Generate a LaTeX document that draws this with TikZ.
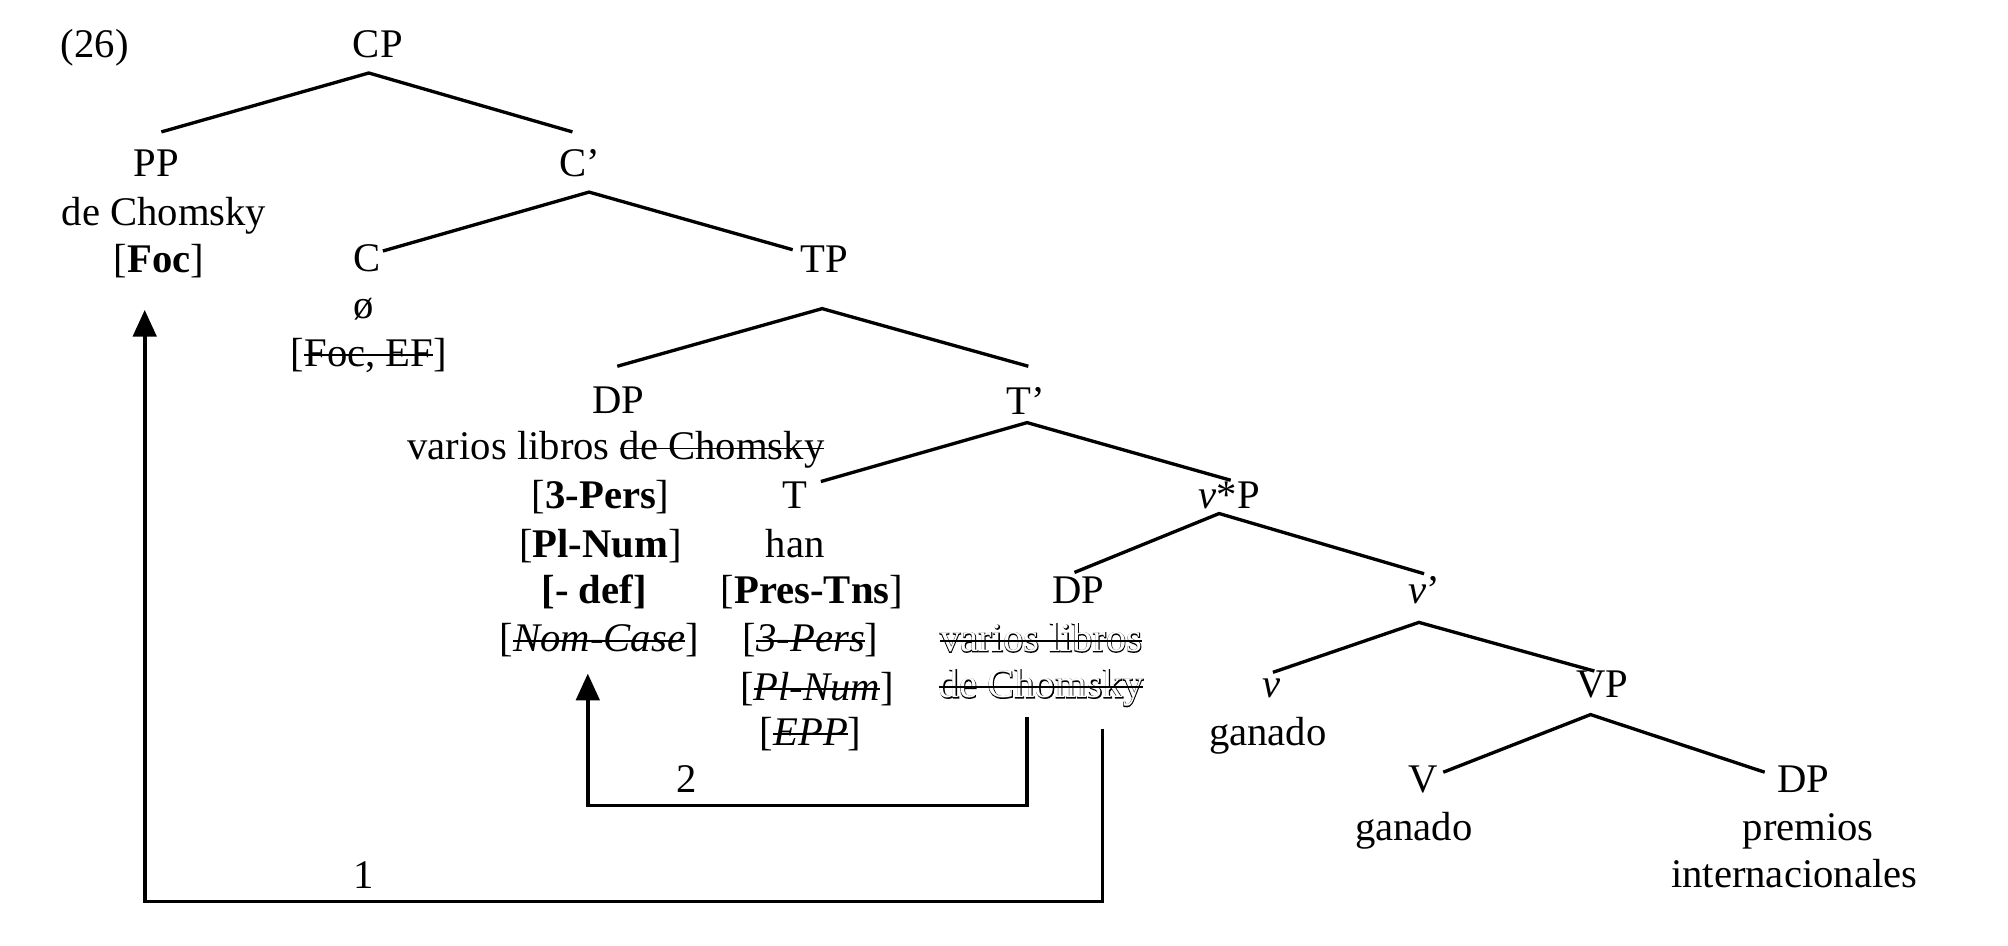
\documentclass[tikz,border=0pt]{standalone}
\usepackage{fontspec}
\setmainfont{Liberation Serif}
\newfontfamily\fatfont[FakeBold=3]{Liberation Serif}
\usetikzlibrary{arrows.meta}
\newsavebox\strkbox
\newcommand\strk[1]{\sbox\strkbox{#1}\rlap{\usebox\strkbox}\rule[0.55ex]{\wd\strkbox}{0.55pt}}
\newcommand\hollowtext[1]{\sbox\strkbox{#1}\rlap{\fatfont #1}\rlap{\textcolor{white}{#1}}\rule[0.55ex]{\wd\strkbox}{0.55pt}}
\begin{document}
\begin{tikzpicture}[x=0.38418pt,y=-0.38418pt,
  lbl/.style={anchor=base,inner sep=0pt,font=\fontsize{12.2}{14}\selectfont},
  br/.style={line width=1pt},
  mv/.style={line width=1.1pt,-{Triangle[length=8pt,width=7pt]}}]
\useasboundingbox (0,0) rectangle (1568,738);
% labels
\node[lbl] (ex) at (74,45) {(26)};
\node[lbl] (CP) at (295,45) {CP};
\node[lbl] (PP) at (122,138) {PP};
\node[lbl] (PPw) at (128,176) {de Chomsky};
\node[lbl] (PPf) at (124,213) {[\textbf{Foc}]};
\node[lbl] (Cb) at (453,138) {C’};
\node[lbl] (C) at (287,212) {C};
\node[lbl] (Cw) at (284,249) {ø};
\node[lbl] (Cf) at (288,286) {[\strk{Foc, EF}]};
\node[lbl] (TP) at (644,213) {TP};
\node[lbl] (DPa) at (483,323) {DP};
\node[lbl] (DPaw) at (481,359) {varios libros \strk{de Chomsky}};
\node[lbl] (DPf1) at (469,397) {[\textbf{3-Pers}]};
\node[lbl] (DPf2) at (469,435) {[\textbf{Pl-Num}]};
\node[lbl] (DPf3) at (464,471) {\textbf{[- def]}};
\node[lbl] (DPf4) at (468,509) {[\textit{\strk{Nom-Case}}]};
\node[lbl] (Tb) at (801,324) {T’};
\node[lbl] (T) at (621,397) {T};
\node[lbl] (Tw) at (621,435) {han};
\node[lbl] (Tf1) at (634,471) {[\textbf{Pres-Tns}]};
\node[lbl] (Tf2) at (633,509) {[\textit{\strk{3-Pers}}]};
\node[lbl] (Tf3) at (638,547) {[\textit{\strk{Pl-Num}}]};
\node[lbl] (Tf4) at (633,582) {[\textit{\strk{EPP}}]};
\node[lbl] (vsP) at (960,397) {\textit{v}*P};
\node[lbl] (DPb) at (842,471) {DP};
\node[lbl] (DPbw1) at (813,509) {\hollowtext{varios libros}};
\node[lbl] (DPbw2) at (813,545) {\hollowtext{de Chomsky}};
\node[lbl] (vb) at (1112,471) {\textit{v}’};
\node[lbl] (v) at (993,545) {\textit{v}};
\node[lbl] (vw) at (990,582) {ganado};
\node[lbl] (VP) at (1251,545) {VP};
\node[lbl] (V) at (1111,619) {V};
\node[lbl] (Vw) at (1104,656) {ganado};
\node[lbl] (DPc) at (1408,619) {DP};
\node[lbl] (DPcw1) at (1412,656) {premios};
\node[lbl] (DPcw2) at (1401,693) {internacionales};
\node[lbl] (n1) at (284,694) {1};
\node[lbl] (n2) at (536,619) {2};
% branch points
\coordinate (cp-a) at (288,57);   \coordinate (cp-l) at (126,103);  \coordinate (cp-r) at (447,103);
\coordinate (cb-a) at (460,150);  \coordinate (cb-l) at (299,196);  \coordinate (cb-r) at (619,195);
\coordinate (tp-a) at (642,241);  \coordinate (tp-l) at (482,286);  \coordinate (tp-r) at (803,286);
\coordinate (tb-a) at (802,330);  \coordinate (tb-l) at (641,376);  \coordinate (tb-r) at (961,375);
\coordinate (vp-a) at (952,401);  \coordinate (vp-l) at (839,447);  \coordinate (vp-r) at (1112,448);
\coordinate (vb-a) at (1108,486); \coordinate (vb-l) at (994,525);  \coordinate (vb-r) at (1245,524);
\coordinate (VP-a) at (1242,558); \coordinate (VP-l) at (1127,603); \coordinate (VP-r) at (1378,603);
\draw[br] (cp-l) -- (cp-a) -- (cp-r);
\draw[br] (cb-l) -- (cb-a) -- (cb-r);
\draw[br] (tp-l) -- (tp-a) -- (tp-r);
\draw[br] (tb-l) -- (tb-a) -- (tb-r);
\draw[br] (vp-l) -- (vp-a) -- (vp-r);
\draw[br] (vb-l) -- (vb-a) -- (vb-r);
\draw[br] (VP-l) -- (VP-a) -- (VP-r);
% movement arrows
\coordinate (m1s) at (861,569); \coordinate (m1c) at (113,704); \coordinate (m1t) at (113,242);
\coordinate (m2s) at (802,560); \coordinate (m2c) at (459,629); \coordinate (m2t) at (459,526);
\draw[mv] (m1s) |- (m1c) -- (m1t);
\draw[mv] (m2s) |- (m2c) -- (m2t);
\end{tikzpicture}
\end{document}
